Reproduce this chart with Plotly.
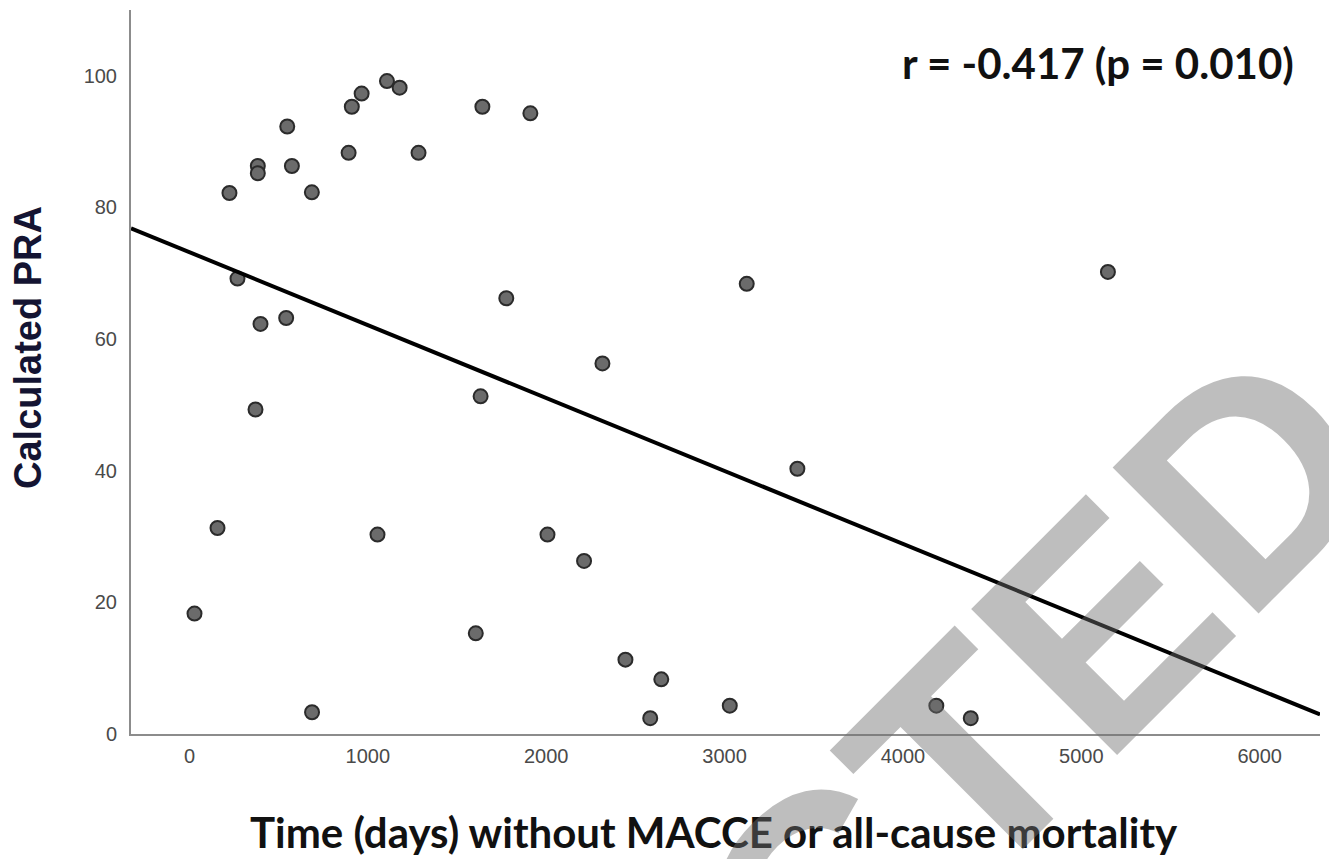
import numpy as np
import plotly.graph_objects as go

# Data
days = [28, 157, 224, 269, 383, 383, 398, 370, 548, 574, 542, 686, 687, 892, 910,
        965, 1054, 1107, 1178, 1284, 1605, 1632, 1642, 1776, 1911, 2007, 2212, 2315,
        2444, 2583, 2645, 3029, 3124, 3408, 4187, 4380, 5149]
pra = [18.3, 31.3, 82.2, 69.2, 86.3, 85.2, 62.3, 49.3, 92.3, 86.3, 63.2, 82.3, 3.3,
       88.3, 95.3, 97.3, 30.3, 99.2, 98.2, 88.3, 15.3, 51.3, 95.3, 66.2, 94.3, 30.3,
       26.3, 56.3, 11.3, 2.4, 8.3, 4.3, 68.4, 40.3, 4.3, 2.4, 70.2]

fit_intercept = 73.2
fit_slope = -0.01108

x_range = [-328, 6338]
y_range = [0, 110]
x_ticks = [0, 1000, 2000, 3000, 4000, 5000, 6000]
y_ticks = [0, 20, 40, 60, 80, 100]

stat_text = "r = -0.417 (p = 0.010)"
x_title = "Time (days) without MACCE or all-cause mortality"
y_title = "Calculated PRA"
watermark = "RETRACTED"

fig = go.Figure()
fig.add_trace(go.Scatter(
    x=days, y=pra, mode="markers",
    marker=dict(size=14, color="#6b6b6b", line=dict(color="#2b2b2b", width=2)),
    showlegend=False, hoverinfo="skip"))

line_x = np.array(x_range, dtype=float)
line_y = fit_intercept + fit_slope * line_x
fig.add_trace(go.Scatter(
    x=line_x, y=line_y, mode="lines",
    line=dict(color="black", width=4),
    showlegend=False, hoverinfo="skip"))

axis_common = dict(
    showgrid=False, zeroline=False, showline=True,
    linecolor="#8c8c8c", linewidth=2,
    ticks="outside", tickcolor="rgba(0,0,0,0)",
    tickfont=dict(family="Liberation Sans, Arial", size=20, color="#4a4a4a"),
)

fig.update_layout(
    width=1329, height=859,
    margin=dict(l=131, r=9, t=10, b=125),
    paper_bgcolor="white", plot_bgcolor="white",
    xaxis=dict(range=x_range, tickvals=x_ticks, ticklen=3, **axis_common),
    yaxis=dict(range=y_range, tickvals=y_ticks, ticklen=8, **axis_common),
    annotations=[
        dict(text="<b>" + stat_text + "</b>", xref="paper", yref="paper",
             x=(1098 - 131) / 1189, y=(734 - 63) / 724,
             xanchor="center", yanchor="middle", showarrow=False,
             font=dict(family="Lato", size=42, color="#111111")),
        dict(text="<b>" + x_title + "</b>", xref="paper", yref="paper",
             x=(714 - 131) / 1189, y=(734 - 832) / 724,
             xanchor="center", yanchor="middle", showarrow=False,
             font=dict(family="Lato", size=42, color="#111111")),
        dict(text="<b>" + y_title + "</b>", xref="paper", yref="paper",
             x=(28 - 131) / 1189, y=(734 - 348) / 724, textangle=-90,
             xanchor="center", yanchor="middle", showarrow=False,
             font=dict(family="Liberation Sans, Arial", size=38, color="#141432")),
        dict(text="<b>" + watermark + "</b>", xref="paper", yref="paper",
             x=(670 - 131) / 1189, y=(734 - 1055) / 724, textangle=-45,
             xanchor="center", yanchor="middle", showarrow=False,
             font=dict(family="Liberation Sans, Arial", size=300,
                       color="rgba(110,110,110,0.45)")),
    ],
)

fig.write_html("out.html")
